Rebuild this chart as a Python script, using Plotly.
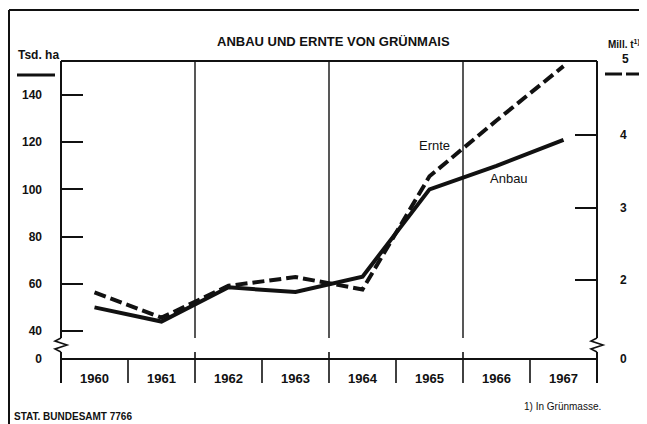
import plotly.graph_objects as go

years = ["1960", "1961", "1962", "1963", "1964", "1965", "1966", "1967"]
anbau_tsd_ha = [50, 44, 58.5, 56.5, 63, 100, 110, 121]
ernte_mill_t = [1.83, 1.48, 1.92, 2.04, 1.87, 3.43, 4.2, 4.95]
left_ticks = [40, 60, 80, 100, 120, 140]
right_ticks = [2, 3, 4]

W, H = 647, 424
OFF = 8  # page body margin of the browser
L, R, T, B = 61, 597, 61, 359  # plot area in reference pixels
FONT = "Liberation Sans Narrow, Liberation Sans, Arial, sans-serif"
INK = "#111111"

# broken axes: value shown as "0" sits at the baseline
LEFT_RANGE = [28.14, 154.4]
RIGHT_RANGE = [0.910, 5.021]

def px(x):
    return (x - L) / (R - L)

def py(y):
    return (B - y) / (B - T)

xi = list(range(len(years)))

fig = go.Figure()
fig.add_trace(go.Scatter(x=xi, y=anbau_tsd_ha, mode="lines", name="Anbau",
                         line=dict(color=INK, width=4), yaxis="y"))
fig.add_trace(go.Scatter(x=xi, y=ernte_mill_t, mode="lines", name="Ernte",
                         line=dict(color=INK, width=4, dash="12px,5px"), yaxis="y2"))

shapes = []
def line(x0, y0, x1, y1, w=1.6):
    shapes.append(dict(type="line", xref="paper", yref="paper",
                       x0=px(x0), y0=py(y0), x1=px(x1), y1=py(y1),
                       line=dict(color=INK, width=w)))

def path(points, w=1.6):
    d = "M " + " L ".join(f"{px(a)},{py(b)}" for a, b in points)
    shapes.append(dict(type="path", xref="paper", yref="paper", path=d,
                       line=dict(color=INK, width=w)))

# outer frame
line(9, 10, 647, 10, 2)
line(9, 10, 9, 424, 2)
# plot top and baseline
line(L, T, R, T, 2)
line(L, B, R, B, 2)
# left / right axis lines with break
for ax in (L, R):
    line(ax, T, ax, 338, 2)
    path([(ax, 338), (ax - 6, 341), (ax + 6, 345), (ax - 6, 349), (ax, 352)], 1.6)
    line(ax, 352, ax, 383, 2)
# category boundaries
n = len(years)
for k in range(1, n):
    b = k - 0.5
    xpix = L + (b + 0.5) / n * (R - L)
    if k % 2 == 0:
        line(xpix, T, xpix, 338, 1.4)
        line(xpix, 352, xpix, 383, 1.6)
    else:
        line(xpix, B, xpix, 383, 1.6)
# thick unit bars
line(17, 75, 55, 75, 3)
line(605, 74, 622, 74, 3)
line(626, 74, 643, 74, 3)

def f(size, bold=True):
    return dict(size=size, family=FONT, color=INK,
                weight="bold" if bold else "normal")

fig.update_layout(
    width=W - OFF, height=H - OFF,
    margin=dict(l=L - OFF, r=W - R, t=T - OFF, b=H - B, pad=0),
    paper_bgcolor="white", plot_bgcolor="white",
    showlegend=False,
    font=dict(family=FONT, color=INK, size=12),
    xaxis=dict(range=[-0.5, n - 0.5], tickvals=xi, ticktext=years,
               showgrid=False, zeroline=False, showline=False, ticks="",
               ticklabelstandoff=10, tickfont=f(13)),
    yaxis=dict(range=LEFT_RANGE, tickvals=[LEFT_RANGE[0]] + left_ticks,
               ticktext=["0"] + [str(v) for v in left_ticks],
               ticks="inside", ticklen=22, tickwidth=1.5, tickcolor=INK,
               showgrid=False, zeroline=False, showline=False,
               ticklabelstandoff=18, tickfont=f(12)),
    yaxis2=dict(range=RIGHT_RANGE, overlaying="y", side="right",
                tickvals=[RIGHT_RANGE[0]] + right_ticks,
                ticktext=["0"] + [str(v) for v in right_ticks],
                ticks="inside", ticklen=22, tickwidth=1.5, tickcolor=INK,
                showgrid=False, zeroline=False, showline=False,
                ticklabelstandoff=22, tickfont=f(12)),
    shapes=shapes,
)

def ann(text, x, y, size=12, bold=True, xanchor="center"):
    fig.add_annotation(text=text, xref="paper", yref="paper", x=px(x), y=py(y),
                       showarrow=False, xanchor=xanchor, yanchor="middle",
                       font=f(size, bold))

ann("ANBAU UND ERNTE VON GRÜNMAIS", 333, 42, 13)
ann("Tsd. ha", 38, 55, 12)
ann("Mill. t<sup>1)</sup>", 624, 44, 10)
ann("5", 625, 59, 12)
ann("Ernte", 434, 145, 13, bold=False)
ann("Anbau", 509, 178, 13, bold=False)
ann("STAT. BUNDESAMT 7766", 12, 416, 10, xanchor="left")
ann("1) In Grünmasse.", 522, 406, 10, bold=False, xanchor="left")

fig.write_html("out.html")
